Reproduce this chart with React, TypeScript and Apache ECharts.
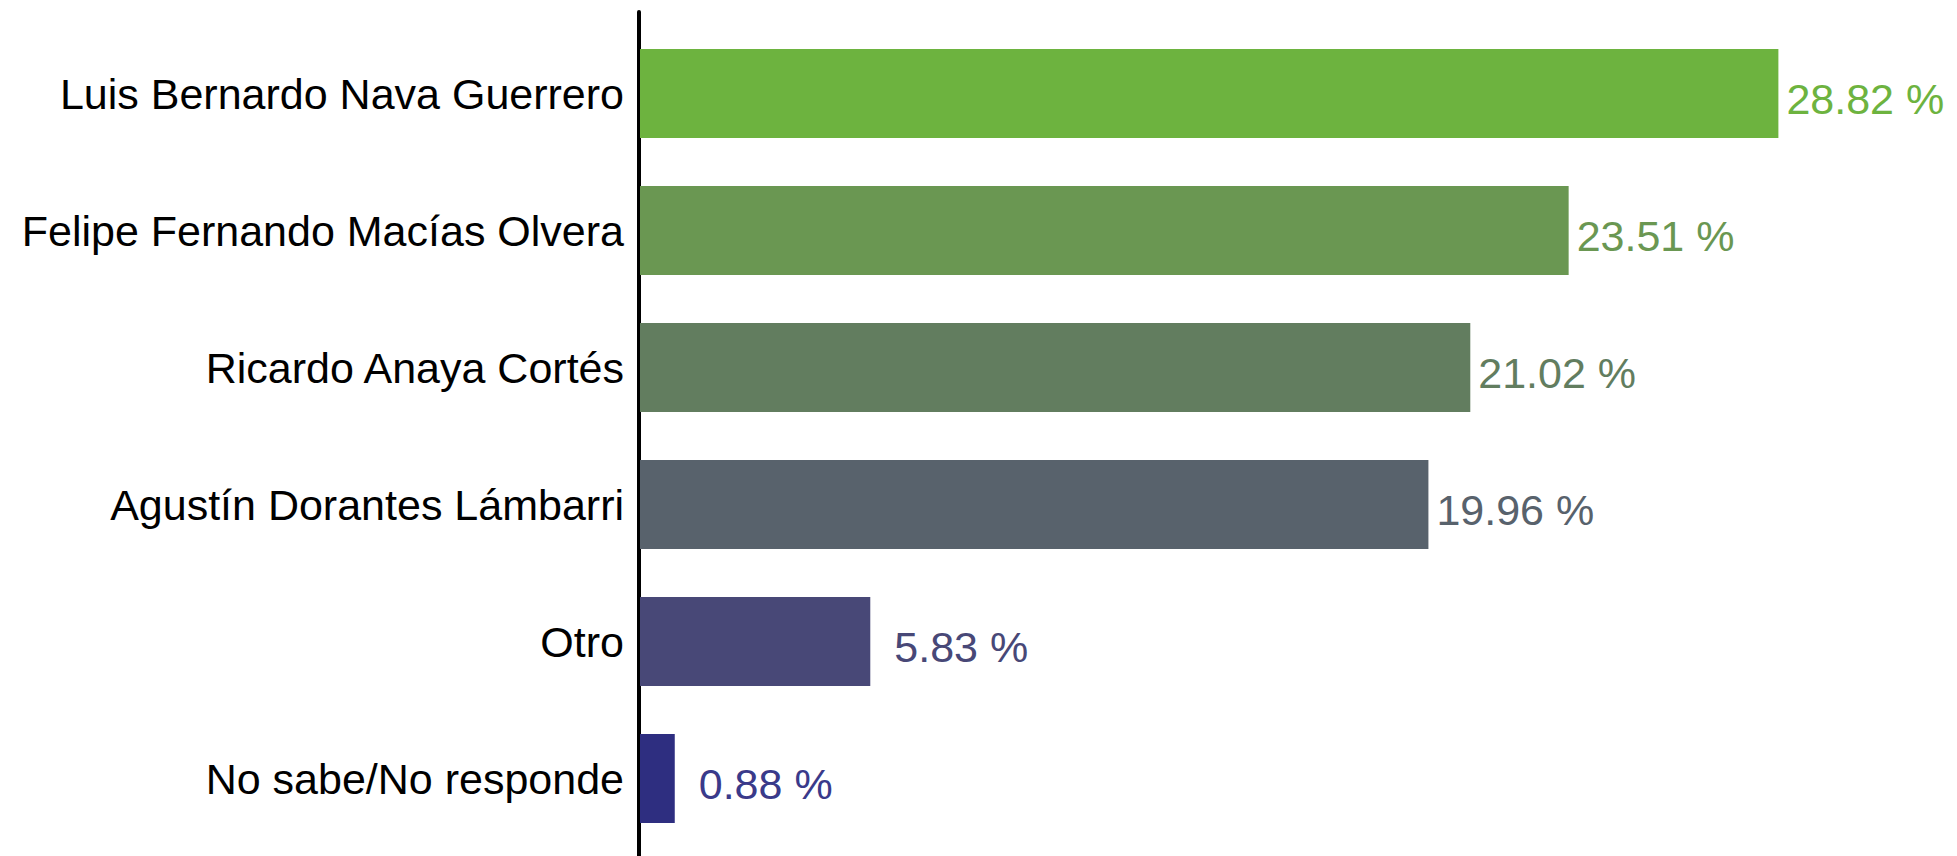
import React, { useEffect, useRef } from "react";
import * as echarts from "echarts";

const categories = [
  "Luis Bernardo Nava Guerrero",
  "Felipe Fernando Macías Olvera",
  "Ricardo Anaya Cortés",
  "Agustín Dorantes Lámbarri",
  "Otro",
  "No sabe/No responde",
];
const values = [28.82, 23.51, 21.02, 19.96, 5.83, 0.88];
const barColors = ["#6db33f", "#6a9752", "#627d5f", "#58626c", "#484877", "#2e2e80"];
const labelColors = ["#6db33f", "#6a9752", "#627d5f", "#58626c", "#484877", "#3a3a8a"];

const FONT = "'Liberation Sans', Arial, Helvetica, sans-serif";

export default function App() {
  const ref = useRef<HTMLDivElement>(null);
  useEffect(() => {
    if (!ref.current) return;
    const chart = echarts.init(ref.current, undefined, { renderer: "svg" });
    chart.setOption({
      animation: false,
      backgroundColor: "#ffffff",
      grid: [
        { left: 640, right: 132, top: 25, bottom: 9, containLabel: false },
        { left: 639, right: 132, top: 12, bottom: -2, containLabel: false },
      ],
      xAxis: [
        {
          type: "value",
          gridIndex: 0,
          min: 0,
          max: 30,
          show: false,
        },
        {
          type: "value",
          gridIndex: 1,
          min: 0,
          max: 30,
          show: false,
        },
      ],
      yAxis: [
        {
          type: "category",
          gridIndex: 0,
          data: categories,
          inverse: true,
          axisLine: { show: false },
          axisTick: { show: false },
          splitLine: { show: false },
          axisLabel: {
            fontFamily: FONT,
            fontSize: 43,
            color: "#000000",
            margin: 16,
            padding: [9, 0, 0, 0],
          },
        },
        {
          type: "category",
          gridIndex: 1,
          data: [""],
          axisLine: { show: true, lineStyle: { color: "#000000", width: 4 } },
          axisTick: { show: false },
          axisLabel: { show: false },
          splitLine: { show: false },
        },
      ],
      series: [
        {
          type: "bar",
          xAxisIndex: 0,
          yAxisIndex: 0,
          barWidth: 89,
          data: values.map((v, i) => ({
            value: v,
            itemStyle: { color: barColors[i] },
            label: {
              color: labelColors[i],
              distance: v < 10 ? 24 : 8,
            },
          })),
          label: {
            show: true,
            position: "right",
            fontFamily: FONT,
            fontSize: 43,
            offset: [0, 5],
            formatter: (p: any) => `${p.value.toFixed(2)} %`,
          },
        },
      ],
    });
    return () => chart.dispose();
  }, []);
  return <div ref={ref} style={{ width: 1957, height: 856, position: "absolute", left: 0, top: 0 }} />;
}
